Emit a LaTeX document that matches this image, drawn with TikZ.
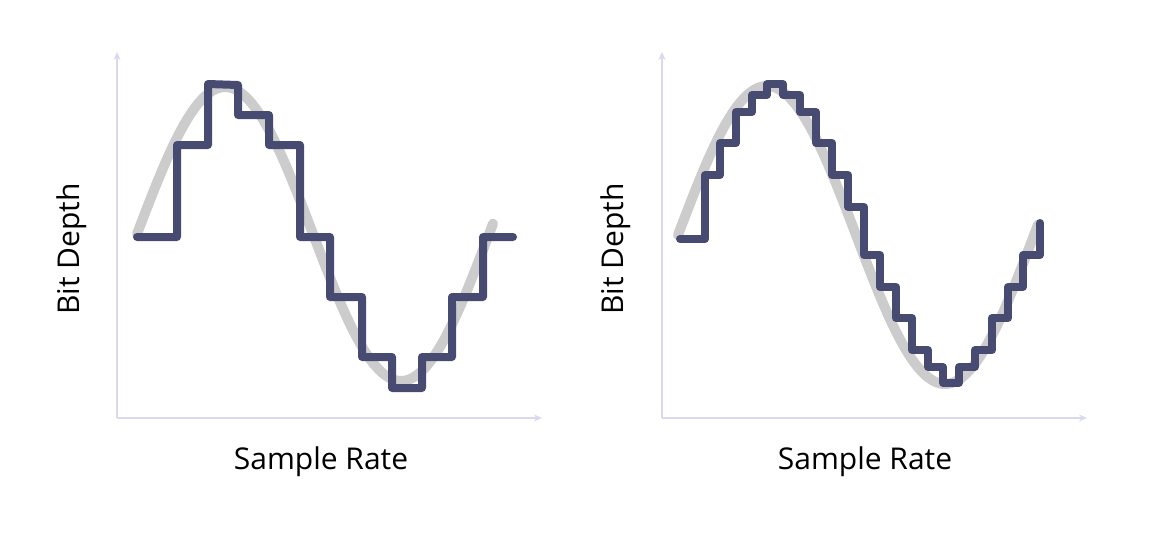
\documentclass[tikz,border=0pt]{standalone}
\usepackage{fontspec}
\setmainfont{Open Sans}
\usetikzlibrary{arrows.meta}
\definecolor{stairblue}{HTML}{474B72}
\definecolor{sinegray}{HTML}{CCCCCC}
\definecolor{axislav}{HTML}{D9D9F0}

\begin{document}
\begin{tikzpicture}[x=1pt,y=-1pt,
    axis/.style={draw=axislav,line width=2pt,-{Stealth[length=8pt,width=7pt]}},
    sine/.style={draw=sinegray,line width=10pt,line cap=round},
    stairs/.style={draw=stairblue,line width=8pt,line cap=round,line join=round},
    axlabel/.style={font=\fontsize{30}{34}\selectfont,inner sep=0pt}]
    \useasboundingbox (0,0) rectangle (1152,544);

    % Left plot
    \coordinate (O1) at (117,418);
    \coordinate (Y1) at (117,52);
    \coordinate (X1) at (542,418);
    \draw[axis] (O1) -- (Y1);
    \draw[axis] (O1) -- (X1);
    \node[axlabel,rotate=90] (ylab1) at (72,249) {Bit Depth};
    \node[axlabel] (xlab1) at (321,462) {Sample Rate};
    \draw[sine] plot[domain=0:364,samples=100] ({137+\x*0.978},{234-147*sin(\x)});
    \draw[stairs] (137,237) -- (177,237) -- (177,145) -- (208,145) -- (208,84) -- (238,85)
        -- (238,115) -- (269,115) -- (269,145) -- (300,145) -- (300,237) -- (330,237)
        -- (330,297) -- (362,297) -- (362,357) -- (392,357) -- (392,388) -- (422,388)
        -- (422,357) -- (452,357) -- (452,297) -- (483,297) -- (483,237) -- (513,237);

    % Right plot
    \coordinate (O2) at (662,418);
    \coordinate (Y2) at (662,52);
    \coordinate (X2) at (1087,418);
    \draw[axis] (O2) -- (Y2);
    \draw[axis] (O2) -- (X2);
    \node[axlabel,rotate=90] (ylab2) at (616,249) {Bit Depth};
    \node[axlabel] (xlab2) at (865,462) {Sample Rate};
    \draw[sine] plot[domain=0:364,samples=100] ({678+\x*0.989},{235-149*sin(\x)});
    \draw[stairs] (680,239) -- (705,239) -- (705,175) -- (720,175) -- (720,143) -- (736,143)
        -- (736,112) -- (752,112) -- (752,95) -- (767,95) -- (767,84) -- (783,84)
        -- (783,95) -- (800,95) -- (800,112) -- (816,112) -- (816,143) -- (832,143)
        -- (832,175) -- (848,175) -- (848,207) -- (864,207) -- (864,255) -- (880,255)
        -- (880,287) -- (896,287) -- (896,318) -- (912,318) -- (912,350) -- (928,350)
        -- (928,367) -- (943,367) -- (943,383) -- (959,383) -- (959,367) -- (975,367)
        -- (975,350) -- (992,350) -- (992,318) -- (1008,318) -- (1008,287) -- (1023,287)
        -- (1023,255) -- (1040,255) -- (1040,223);
\end{tikzpicture}
\end{document}
